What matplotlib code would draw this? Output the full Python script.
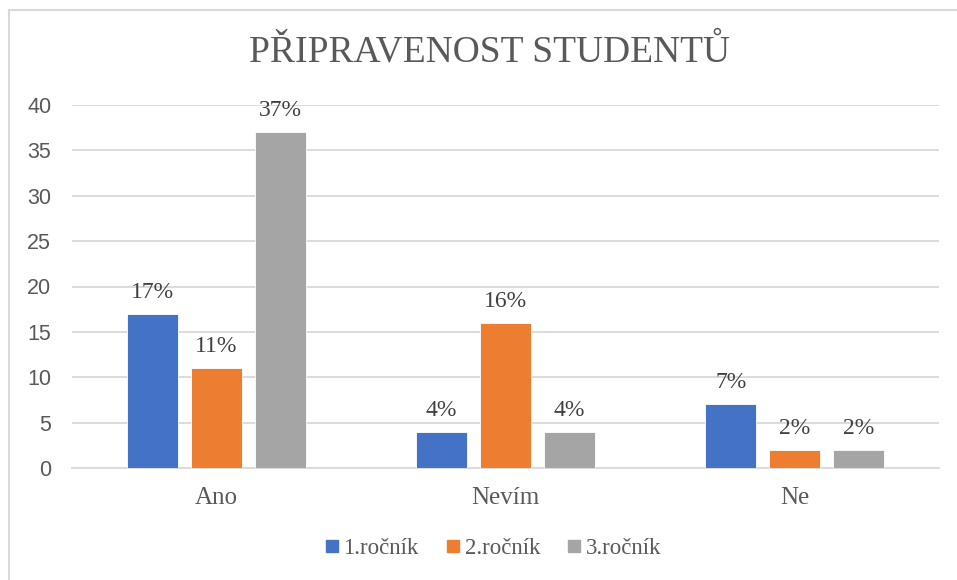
import matplotlib
matplotlib.use("Agg")
import matplotlib.pyplot as plt
from matplotlib.lines import Line2D
import numpy as np

categories = ["Ano", "Nevím", "Ne"]
series_names = ["1.ročník", "2.ročník", "3.ročník"]
values_1 = [17, 4, 7]
values_2 = [11, 16, 2]
values_3 = [37, 4, 2]
labels_1 = ["17%", "4%", "7%"]
labels_2 = ["11%", "16%", "2%"]
labels_3 = ["37%", "4%", "2%"]
yticks = [0, 5, 10, 15, 20, 25, 30, 35, 40]
title = "PŘIPRAVENOST STUDENTŮ"

colors = ["#4472C4", "#ED7D31", "#A5A5A5"]
serif = ["Liberation Serif", "DejaVu Serif"]
sans = ["Liberation Sans", "DejaVu Sans"]

fig = plt.figure(figsize=(9.57, 5.8), dpi=100)
W, H = 957, 580
ax = fig.add_axes([72 / W, 1 - 468 / H, (939 - 72) / W, (468 - 105) / H])

x = np.arange(len(categories))
bw = 0.176
off = 0.221
all_vals = [values_1, values_2, values_3]
all_labels = [labels_1, labels_2, labels_3]
for i, (vals, labs) in enumerate(zip(all_vals, all_labels)):
    pos = x + (i - 1) * off
    bars = ax.bar(pos, vals, width=bw, color=colors[i], edgecolor="white",
                  linewidth=0.6, zorder=3, label=series_names[i])
    for b, lab in zip(bars, labs):
        ax.annotate(lab, (b.get_x() + b.get_width() / 2, b.get_height()),
                    xytext=(0, 8), textcoords="offset points",
                    ha="center", va="bottom", fontsize=17,
                    family=serif, color="#404040")

ax.set_xlim(-0.5, 2.5)
ax.set_ylim(0, 40)
ax.set_yticks(yticks)
ax.set_yticklabels([str(t) for t in yticks], family=sans, fontsize=15.5, color="#595959")
ax.set_xticks(x)
ax.set_xticklabels(categories, family=serif, fontsize=18, color="#595959")
ax.tick_params(axis="y", length=0, pad=15)
ax.tick_params(axis="x", length=0, pad=14)
ax.grid(axis="y", color="#D9D9D9", linewidth=1.3, zorder=0)
for s in ["top", "right", "left"]:
    ax.spines[s].set_visible(False)
ax.spines["bottom"].set_color("#D9D9D9")
ax.spines["bottom"].set_linewidth(1.3)

fig.text(490 / W, 1 - 52 / H, title, ha="center", va="center",
         family=serif, fontsize=27, color="#595959")

handles = [Line2D([], [], marker="s", linestyle="none", markersize=8,
                  markerfacecolor=c, markeredgecolor=c) for c in colors]
fig.legend(handles, series_names, loc="center", bbox_to_anchor=(492 / W, 1 - 548 / H),
           ncol=3, frameon=False, prop={"family": serif, "size": 16.5},
           labelcolor="#595959", handletextpad=0.1, columnspacing=1.1, handlelength=0.8)

# chart frame
fig.add_artist(Line2D([8.5 / W, 1], [1 - 9.5 / H, 1 - 9.5 / H], color="#D9D9D9", linewidth=1.5))
fig.add_artist(Line2D([8.5 / W, 8.5 / W], [0, 1 - 9.5 / H], color="#D9D9D9", linewidth=1.5))

fig.savefig("out.png", dpi=100, facecolor="white")
